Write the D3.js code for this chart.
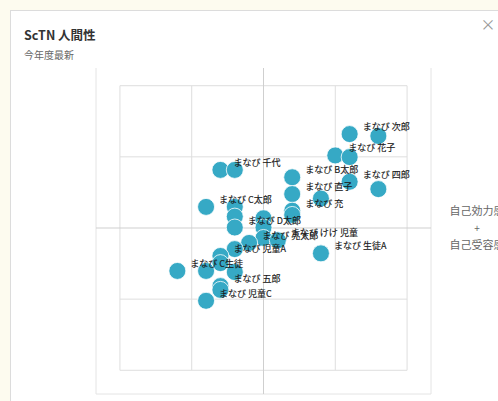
<!DOCTYPE html>
<html>
<head>
<meta charset="utf-8">
<script src="https://cdn.jsdelivr.net/npm/d3@7"></script>
<style>
  html, body { margin: 0; padding: 0; background: #fdfbef; }
  svg { display: block; font-family: "Noto Sans CJK JP", "Noto Sans", sans-serif; }
</style>
</head>
<body>
<div id="chart"></div>
<script>
// chart text
var title = "ScTN 人間性";
var subtitle = "今年度最新";
var axisLabel = ["自己効力感", "+", "自己受容感"];

// grid ticks (both axes)
var gridTicks = [-6, -3, 0, 3, 6];

// point data: names ("" = no label), x values, y values
var names = ["まなび 次郎", "", "まなび 花子", "", "まなび 四郎", "",
  "まなび B太郎", "まなび 直子", "", "まなび 充", "",
  "まなび 千代", "", "まなび C太郎", "", "", "まなび D太郎",
  "", "", "", "まなび 亮太郎", "まなび けけ 児童", "",
  "まなび 児童A", "", "まなび C生徒", "", "", "まなび 生徒A",
  "まなび 五郎", "", "まなび 児童C"];
var xs = [3.6, 4.8, 3.0, 3.6, 3.6, 4.8,
  1.2, 1.2, 2.4, 1.2, 1.2,
  -1.8, -1.2, -2.4, -1.2, -1.2, -1.2,
  0, 0, 0, -0.6, 0.6, -1.2,
  -1.8, -1.8, -3.6, -2.4, -1.2, 2.4,
  -1.8, -1.8, -2.4];
var ys = [3.96, 3.88, 3.06, 2.99, 1.95, 1.64,
  2.14, 1.43, 1.24, 0.73, 0.55,
  2.45, 2.45, 0.89, 0.89, 0.48, 0.02,
  0.41, 0.02, -0.42, -0.63, -0.52, -0.89,
  -1.18, -1.48, -1.81, -1.81, -1.86, -1.07,
  -2.45, -2.61, -3.07];

var width = 498, height = 401;

var svg = d3.select("#chart").append("svg")
    .attr("width", width)
    .attr("height", height);

// white panel
svg.append("rect")
    .attr("x", 10.5).attr("y", 10.5)
    .attr("width", width).attr("height", height)
    .attr("fill", "#fff")
    .attr("stroke", "#dcdcdc");

svg.append("text")
    .attr("x", 24).attr("y", 40)
    .attr("font-size", 12.5).attr("font-weight", "bold")
    .attr("fill", "#333")
    .text(title);

svg.append("text")
    .attr("x", 24).attr("y", 59)
    .attr("font-size", 10).attr("fill", "#666")
    .text(subtitle);

// close icon
svg.append("text")
    .attr("x", 488).attr("y", 30)
    .attr("font-size", 15).attr("text-anchor", "middle")
    .attr("fill", "#999")
    .text("×");

// set the ranges
var xScale = d3.scaleLinear().domain([-7, 7]).range([96, 431]);
var yScale = d3.scaleLinear().domain([-7, 7]).range([394, 62]);
var top0 = 68;

// outer frame (no top line)
var frame = svg.append("g").attr("stroke", "#e4e4e4").attr("fill", "none");
frame.append("line").attr("x1", xScale(-7)).attr("x2", xScale(-7)).attr("y1", top0).attr("y2", yScale(-7));
frame.append("line").attr("x1", xScale(7)).attr("x2", xScale(7)).attr("y1", top0).attr("y2", yScale(-7));
frame.append("line").attr("x1", xScale(-7)).attr("x2", xScale(7)).attr("y1", yScale(-7)).attr("y2", yScale(-7));

// inner grid
var grid = svg.append("g").attr("stroke", "#dedede");
grid.selectAll("line.v").data(gridTicks.filter(function(d) { return d != 0; })).enter().append("line")
    .attr("class", "v")
    .attr("x1", function(d) { return xScale(d); }).attr("x2", function(d) { return xScale(d); })
    .attr("y1", yScale(6)).attr("y2", yScale(-6));
grid.selectAll("line.h").data(gridTicks.filter(function(d) { return d != 0; })).enter().append("line")
    .attr("class", "h")
    .attr("y1", function(d) { return yScale(d); }).attr("y2", function(d) { return yScale(d); })
    .attr("x1", xScale(-6)).attr("x2", xScale(6));

// centre axes
var axes = svg.append("g").attr("stroke", "#cfcfcf");
axes.append("line").attr("x1", xScale(0)).attr("x2", xScale(0)).attr("y1", top0).attr("y2", yScale(-7));
axes.append("line").attr("x1", xScale(-7)).attr("x2", xScale(7)).attr("y1", yScale(0)).attr("y2", yScale(0));

// axis label on the right (clipped by the window edge, as in the original)
svg.selectAll("text.axl").data(axisLabel).enter().append("text")
    .attr("class", "axl")
    .attr("x", 477)
    .attr("y", function(d, i) { return yScale(0) + (i - 1) * 17 + 4; })
    .attr("text-anchor", "middle")
    .attr("font-size", function(d, i) { return i == 1 ? 10 : 11; })
    .attr("fill", "#666")
    .text(function(d) { return d; });

var pts = names.map(function(n, i) { return {name: n, x: xs[i], y: ys[i]}; });

svg.append("g").selectAll("circle").data(pts).enter().append("circle")
    .attr("cx", function(d) { return xScale(d.x); })
    .attr("cy", function(d) { return yScale(d.y); })
    .attr("r", 8.5)
    .attr("fill", "#36a9c5")
    .attr("stroke", "#fff")
    .attr("stroke-width", 0.8);

svg.append("g").selectAll("text").data(pts.filter(function(d) { return d.name; })).enter().append("text")
    .attr("x", function(d) { return xScale(d.x) + 13; })
    .attr("y", function(d) { return yScale(d.y) - 4; })
    .attr("font-size", 9)
    .attr("fill", "#1a1a1a")
    .attr("stroke", "#1a1a1a")
    .attr("stroke-width", 0.15)
    .text(function(d) { return d.name; });
</script>
</body>
</html>
